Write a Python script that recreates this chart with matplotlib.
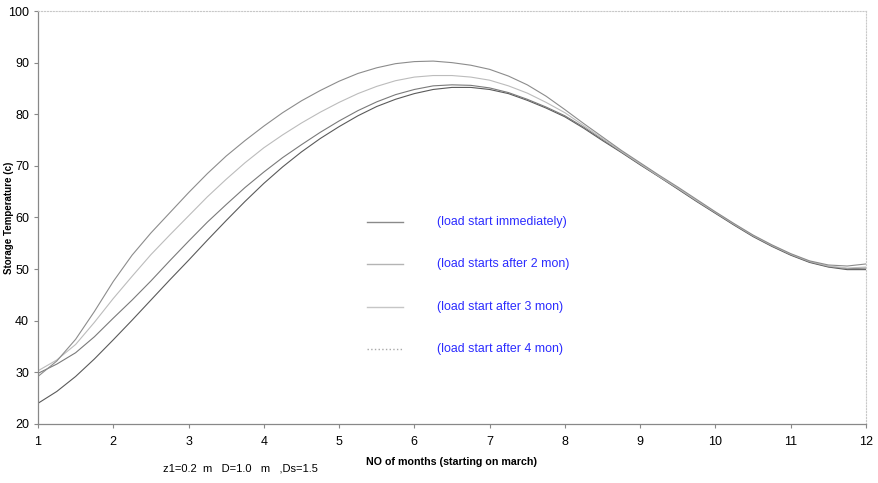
import matplotlib
import matplotlib.pyplot as plt
import numpy as np

matplotlib.use("Agg")

plt.rcParams["font.family"] = ["Liberation Sans", "DejaVu Sans"]

# months 1..12 in quarter-month steps
months = [1.0, 1.25, 1.5, 1.75, 2.0, 2.25, 2.5, 2.75, 3.0, 3.25, 3.5, 3.75,
          4.0, 4.25, 4.5, 4.75, 5.0, 5.25, 5.5, 5.75, 6.0, 6.25, 6.5, 6.75,
          7.0, 7.25, 7.5, 7.75, 8.0, 8.25, 8.5, 8.75, 9.0, 9.25, 9.5, 9.75,
          10.0, 10.25, 10.5, 10.75, 11.0, 11.25, 11.5, 11.75, 12.0]

# storage temperature (c) for each load start
t_immediate = [24.0, 26.3, 29.2, 32.6, 36.3, 40.1, 44.0, 47.9, 51.7, 55.6,
               59.4, 63.1, 66.6, 69.8, 72.7, 75.3, 77.6, 79.7, 81.5, 82.9,
               84.0, 84.8, 85.2, 85.2, 84.8, 84.0, 82.7, 81.2, 79.5, 77.3,
               74.9, 72.6, 70.2, 67.9, 65.5, 63.1, 60.8, 58.5, 56.3, 54.4,
               52.7, 51.3, 50.4, 49.9, 49.9]
t_after_2 = [29.8, 31.6, 33.8, 36.9, 40.5, 44.0, 47.7, 51.6, 55.4, 59.1,
             62.5, 65.8, 68.8, 71.6, 74.1, 76.5, 78.7, 80.7, 82.4, 83.8,
             84.8, 85.5, 85.7, 85.6, 85.1, 84.2, 82.9, 81.4, 79.7, 77.5,
             75.1, 72.7, 70.3, 67.9, 65.6, 63.2, 60.9, 58.6, 56.4, 54.5,
             52.8, 51.4, 50.5, 50.1, 50.2]
t_after_3 = [30.3, 32.4, 35.4, 39.7, 44.3, 48.6, 52.8, 56.6, 60.3, 64.0,
             67.4, 70.6, 73.5, 76.0, 78.3, 80.4, 82.3, 84.0, 85.4, 86.5,
             87.2, 87.5, 87.5, 87.2, 86.6, 85.5, 84.1, 82.3, 80.3, 77.8,
             75.3, 72.8, 70.4, 68.0, 65.7, 63.3, 61.0, 58.7, 56.5, 54.6,
             52.9, 51.5, 50.6, 50.2, 50.4]
t_after_4 = [29.2, 32.2, 36.4, 41.8, 47.6, 52.7, 57.0, 60.9, 64.8, 68.5,
             71.9, 74.9, 77.7, 80.3, 82.6, 84.6, 86.4, 87.9, 89.0, 89.8,
             90.2, 90.3, 90.0, 89.5, 88.7, 87.4, 85.7, 83.5, 80.9, 78.2,
             75.6, 73.0, 70.6, 68.2, 65.9, 63.5, 61.1, 58.8, 56.6, 54.7,
             53.0, 51.6, 50.8, 50.6, 51.0]

labels = ["(load start immediately)", "(load starts after 2 mon)",
          "(load start after 3 mon)", "(load start after 4 mon)"]
curves = [t_immediate, t_after_2, t_after_3, t_after_4]
curve_colors = ["#5a5a5a", "#7a7a7a", "#bcbcbc", "#8c8c8c"]
key_colors = ["#8a8a8a", "#b4b4b4", "#c6c6c6", "#a8a8a8"]
key_styles = ["-", "-", "-", ":"]

fig = plt.figure(figsize=(8.79, 4.83), dpi=100)
ax = fig.add_axes([0.0432, 0.1222, 0.942, 0.855])

for temps, color in zip(curves, curve_colors):
    ax.plot(months, temps, color=color, linewidth=0.8)

# hand-placed key inside the plot area
key_y = [0.489, 0.387, 0.283, 0.182]
for label, c, s, y in zip(labels, key_colors, key_styles, key_y):
    ax.plot([0.397, 0.441], [y, y], transform=ax.transAxes, color=c,
            linestyle=s, linewidth=1.0)
    ax.text(0.482, y, label, transform=ax.transAxes, color="#2b2bff",
            fontsize=8.9, va="center", ha="left")

ax.set_xlim(1, 12)
ax.set_ylim(20, 100)
ax.set_xticks(np.arange(1, 13))
ax.set_yticks(np.arange(20, 101, 10))
ax.tick_params(axis="both", labelsize=9, color="#888888", length=3,
               width=0.8, direction="out")
ax.tick_params(axis="x", pad=6)

for side in ("left", "bottom"):
    ax.spines[side].set_color("#888888")
    ax.spines[side].set_linewidth(0.9)
for side in ("top", "right"):
    ax.spines[side].set_color("#c8c8c8")
    ax.spines[side].set_linestyle(":")
    ax.spines[side].set_linewidth(0.8)

ax.set_xlabel("NO of months (starting on march)", fontsize=7.7,
              fontweight="bold", labelpad=6)
ax.set_ylabel("Storage Temperature (c)", fontsize=7, fontweight="bold")
ax.yaxis.set_label_coords(-0.029, 0.5)
fig.text(0.1855, 0.031, "z1=0.2  m   D=1.0   m   ,Ds=1.5", fontsize=8,
         ha="left", va="center")

fig.savefig("out.png", dpi=100)
plt.close(fig)
